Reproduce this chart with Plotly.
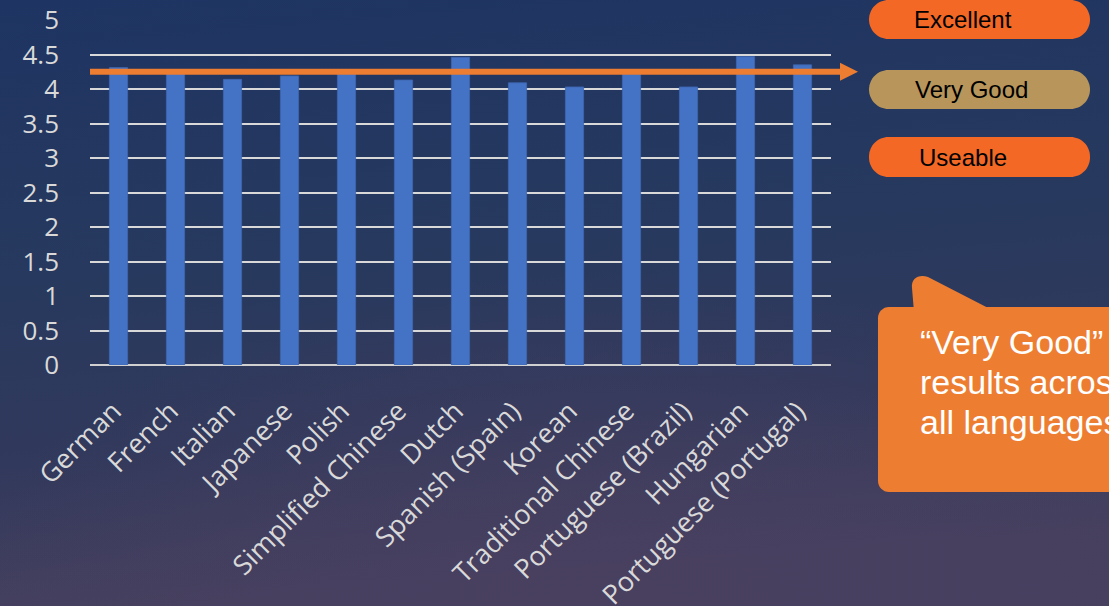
import base64
import plotly.graph_objects as go

# ---- data ----
languages = ["German", "French", "Italian", "Japanese", "Polish", "Simplified Chinese",
             "Dutch", "Spanish (Spain)", "Korean", "Traditional Chinese",
             "Portuguese (Brazil)", "Hungarian", "Portuguese (Portugal)"]
scores = [4.31, 4.24, 4.14, 4.19, 4.22, 4.13, 4.46, 4.09, 4.03, 4.22, 4.03, 4.47, 4.35]
threshold = 4.25
y_ticks = [0, 0.5, 1, 1.5, 2, 2.5, 3, 3.5, 4, 4.5, 5]
rating_labels = ["Excellent", "Very Good", "Useable"]
callout_lines = ["\u201cVery Good\u201d", "results across", "all languages"]

W, H = 1109, 606
L, R, T, B = 90, 831, 20, 365  # plot area in pixels


def px(x):
    return (x - L) / (R - L)


def py(y):
    return (B - y) / (B - T)


def rounded_rect(x0, y0, x1, y1, r):
    k = 0.5523 * r
    pts = [
        f"M{px(x0 + r)},{py(y0)}",
        f"L{px(x1 - r)},{py(y0)}",
        f"C{px(x1 - r + k)},{py(y0)} {px(x1)},{py(y0 + r - k)} {px(x1)},{py(y0 + r)}",
        f"L{px(x1)},{py(y1 - r)}",
        f"C{px(x1)},{py(y1 - r + k)} {px(x1 - r + k)},{py(y1)} {px(x1 - r)},{py(y1)}",
        f"L{px(x0 + r)},{py(y1)}",
        f"C{px(x0 + r - k)},{py(y1)} {px(x0)},{py(y1 - r + k)} {px(x0)},{py(y1 - r)}",
        f"L{px(x0)},{py(y0 + r)}",
        f"C{px(x0)},{py(y0 + r - k)} {px(x0 + r - k)},{py(y0)} {px(x0 + r)},{py(y0)}",
        "Z",
    ]
    return " ".join(pts)


fig = go.Figure()
fig.add_trace(go.Bar(
    x=languages, y=scores,
    marker=dict(color="#4472c4", line=dict(color="#3f66b0", width=0.8)),
    width=0.32,
    hoverinfo="skip",
))

# background gradient
svg = f'''<svg xmlns="http://www.w3.org/2000/svg" width="{W}" height="{H}" viewBox="0 0 {W} {H}" preserveAspectRatio="none">
<defs>
<linearGradient id="g" x1="0" y1="0" x2="0.15" y2="1">
<stop offset="0" stop-color="#1e3462"/>
<stop offset="0.45" stop-color="#27395e"/>
<stop offset="0.75" stop-color="#31395c"/>
<stop offset="1" stop-color="#46405f"/>
</linearGradient>
<radialGradient id="r" cx="0.55" cy="1.05" r="0.6">
<stop offset="0" stop-color="#4a4060" stop-opacity="0.8"/>
<stop offset="1" stop-color="#4a4060" stop-opacity="0"/>
</radialGradient>
</defs>
<rect width="{W}" height="{H}" fill="url(#g)"/>
<rect width="{W}" height="{H}" fill="url(#r)"/>
</svg>'''
src = "data:image/svg+xml;base64," + base64.b64encode(svg.encode()).decode()
fig.add_layout_image(dict(
    source=src, xref="paper", yref="paper",
    x=px(0), y=py(0), sizex=px(W) - px(0), sizey=py(0) - py(H),
    xanchor="left", yanchor="top", sizing="stretch", layer="below",
))

shapes = []
# orange arrow line at threshold
shapes.append(dict(type="line", xref="paper", yref="y", x0=0, x1=px(842), y0=threshold, y1=threshold,
                   line=dict(color="#ed7d31", width=6)))
hh = 9 / (B - T) * 5
shapes.append(dict(type="path", xref="paper", yref="y",
                   path=f"M{px(840)},{threshold + hh} L{px(858)},{threshold} L{px(840)},{threshold - hh} Z",
                   fillcolor="#ed7d31", line=dict(width=0)))

# rating pills
pill_colors = ["#f36825", "#b8955a", "#f36825"]
pill_y = [(0, 39), (70, 109), (137, 177)]
for (y0, y1), c in zip(pill_y, pill_colors):
    shapes.append(dict(type="path", xref="paper", yref="paper",
                       path=rounded_rect(869, y0, 1090, y1, 19.5),
                       fillcolor=c, line=dict(width=0), layer="above"))

# callout box with tail
box = rounded_rect(878, 307, 1140, 492, 11)
shapes.append(dict(type="path", xref="paper", yref="paper", path=box,
                   fillcolor="#ed7d31", line=dict(width=0)))
tail = (f"M{px(914)},{py(312)} L{px(912)},{py(288)} "
        f"C{px(911)},{py(278)} {px(919)},{py(274)} {px(928)},{py(277)} "
        f"L{px(996)},{py(312)} Z")
shapes.append(dict(type="path", xref="paper", yref="paper", path=tail,
                   fillcolor="#ed7d31", line=dict(width=0)))

annotations = []
pill_text_x = [963, 972, 963]
for lab, (y0, y1), tx in zip(rating_labels, pill_y, pill_text_x):
    annotations.append(dict(x=px(tx), y=py((y0 + y1) / 2), xref="paper", yref="paper",
                            text=lab, showarrow=False, xanchor="center", yanchor="middle",
                            font=dict(family="Liberation Sans, Arial", size=24, color="#000000")))
for i, line in enumerate(callout_lines):
    annotations.append(dict(x=px(918), y=py(355 + 40 * i), xref="paper", yref="paper",
                            text=line, showarrow=False, xanchor="left", yanchor="bottom",
                            yshift=-8,
                            font=dict(family="Liberation Sans, Arial", size=34, color="#ffffff")))

fig.update_layout(
    width=W, height=H,
    margin=dict(l=L, r=W - R, t=T, b=H - B, pad=0),
    paper_bgcolor="#2a3a5e",
    plot_bgcolor="rgba(0,0,0,0)",
    showlegend=False,
    bargap=0.68,
    shapes=shapes,
    annotations=annotations,
    xaxis=dict(
        tickangle=-45,
        tickfont=dict(family="Open Sans", size=27, color="#d9d9d9"),
        showgrid=False, showline=False, zeroline=False, ticks="",
        ticklabelstandoff=24, ticklabelshift=-5,
        automargin=False,
    ),
    yaxis=dict(
        range=[0, 5.0001], tickvals=y_ticks, ticktext=[f"{v:g}" for v in y_ticks],
        showgrid=True, gridcolor="#d9d9d9", gridwidth=1.6,
        zeroline=True, zerolinecolor="#d0d0d0", zerolinewidth=1.6,
        tickfont=dict(family="Open Sans", size=26, color="#d9d9d9"),
        ticklabelstandoff=30, showline=False, automargin=False,
    ),
)

fig.write_html("out.html", config={"displayModeBar": False},
               post_script="document.body.style.margin='0';document.body.style.overflow='hidden';")
